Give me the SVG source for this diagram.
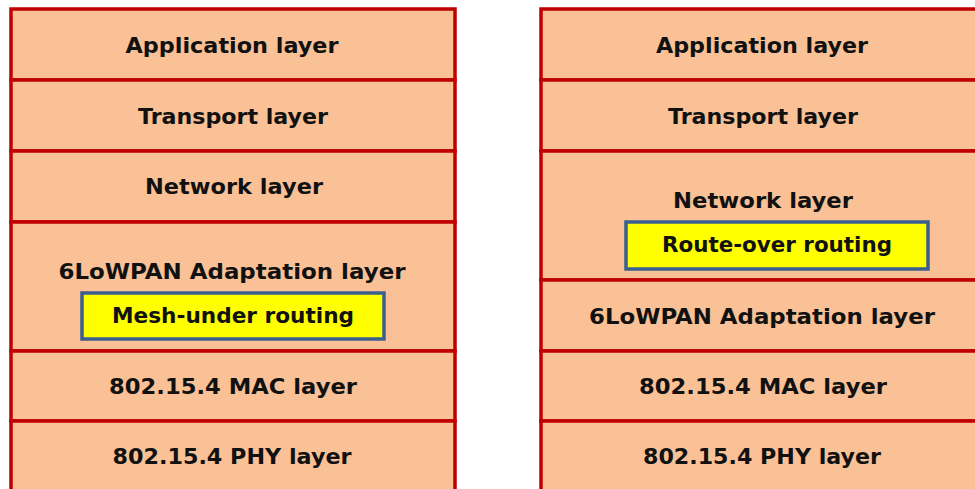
<svg xmlns="http://www.w3.org/2000/svg" width="975" height="489" viewBox="0 0 975 489">
<style>
.layer{fill:#F9C195;stroke:#C00000;stroke-width:3.5}
.route{fill:#FFFF00;stroke:#3A5F8F;stroke-width:3.5}
text{font-family:"DejaVu Sans","Liberation Sans",sans-serif;font-weight:bold;font-size:21.5px;fill:#111;text-anchor:middle}
</style>
<rect width="975" height="489" fill="#fff"/>
<g id="left-stack">
<g id="l-app"><rect class="layer" x="11" y="9" width="444" height="71"/><text x="232" y="53" textLength="213" lengthAdjust="spacingAndGlyphs">Application layer</text></g>
<g id="l-transport"><rect class="layer" x="11" y="80" width="444" height="71"/><text x="233" y="124" textLength="190" lengthAdjust="spacingAndGlyphs">Transport layer</text></g>
<g id="l-network"><rect class="layer" x="11" y="151" width="444" height="71"/><text x="234" y="194" textLength="178" lengthAdjust="spacingAndGlyphs">Network layer</text></g>
<g id="l-6lowpan"><rect class="layer" x="11" y="222" width="444" height="129"/><text x="232" y="279" textLength="347" lengthAdjust="spacingAndGlyphs">6LoWPAN Adaptation layer</text></g>
<g id="l-mesh"><rect class="route" x="82" y="293" width="302" height="46"/><text x="233" y="323" textLength="242" lengthAdjust="spacingAndGlyphs">Mesh-under routing</text></g>
<g id="l-mac"><rect class="layer" x="11" y="351" width="444" height="70"/><text x="233" y="394" textLength="248" lengthAdjust="spacingAndGlyphs">802.15.4 MAC layer</text></g>
<g id="l-phy"><rect class="layer" x="11" y="421" width="444" height="80"/><text x="232" y="464" textLength="239" lengthAdjust="spacingAndGlyphs">802.15.4 PHY layer</text></g>
</g>
<g id="right-stack">
<g id="r-app"><rect class="layer" x="541" y="9" width="444" height="71"/><text x="762" y="53" textLength="212" lengthAdjust="spacingAndGlyphs">Application layer</text></g>
<g id="r-transport"><rect class="layer" x="541" y="80" width="444" height="71"/><text x="763" y="124" textLength="190" lengthAdjust="spacingAndGlyphs">Transport layer</text></g>
<g id="r-network"><rect class="layer" x="541" y="151" width="444" height="129"/><text x="763" y="208" textLength="180" lengthAdjust="spacingAndGlyphs">Network layer</text></g>
<g id="r-route"><rect class="route" x="626" y="222" width="302" height="47"/><text x="777" y="252" textLength="230" lengthAdjust="spacingAndGlyphs">Route-over routing</text></g>
<g id="r-6lowpan"><rect class="layer" x="541" y="280" width="444" height="71"/><text x="762" y="324" textLength="346" lengthAdjust="spacingAndGlyphs">6LoWPAN Adaptation layer</text></g>
<g id="r-mac"><rect class="layer" x="541" y="351" width="444" height="70"/><text x="763" y="394" textLength="248" lengthAdjust="spacingAndGlyphs">802.15.4 MAC layer</text></g>
<g id="r-phy"><rect class="layer" x="541" y="421" width="444" height="80"/><text x="762" y="464" textLength="238" lengthAdjust="spacingAndGlyphs">802.15.4 PHY layer</text></g>
</g>
<g id="connectors"/>
</svg>
